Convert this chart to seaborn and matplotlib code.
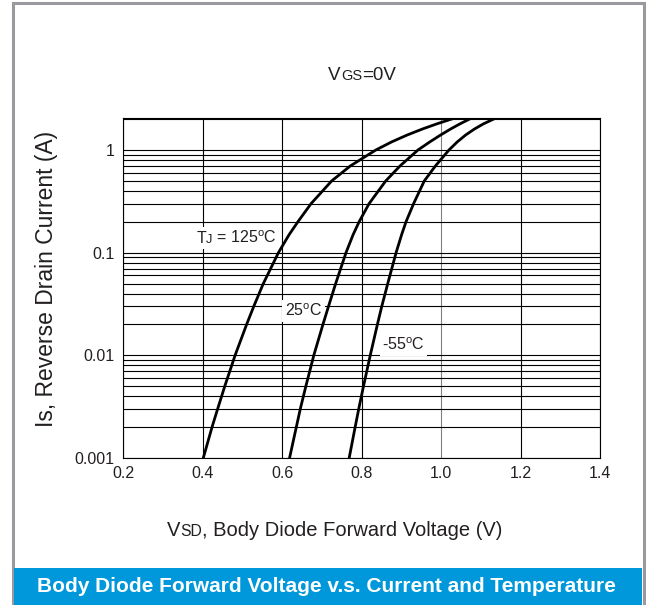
import matplotlib
matplotlib.use('Agg')
import matplotlib.pyplot as plt
from matplotlib.offsetbox import TextArea, HPacker, AnnotationBbox
from matplotlib.patches import Rectangle
import pandas as pd
import seaborn as sns

# currents at the grid lines, forward voltage
i_grid = [0.001, 0.002, 0.003, 0.005, 0.01, 0.02, 0.03, 0.05, 0.1, 0.15,
          0.2, 0.3, 0.5, 0.7, 1.0, 1.2, 1.4, 1.6, 1.8, 2.04]
v_125 = [0.402, 0.424, 0.438, 0.456, 0.482, 0.511, 0.529, 0.553, 0.591, 0.618,
         0.640, 0.673, 0.725, 0.772, 0.836, 0.876, 0.915, 0.953, 0.990, 1.033]
v_25 = [0.619, 0.636, 0.646, 0.660, 0.680, 0.703, 0.717, 0.735, 0.761, 0.779,
        0.794, 0.819, 0.861, 0.897, 0.942, 0.972, 0.999, 1.024, 1.048, 1.076]
v_m55 = [0.769, 0.784, 0.793, 0.805, 0.822, 0.840, 0.851, 0.866, 0.887, 0.901,
         0.912, 0.931, 0.958, 0.986, 1.020, 1.041, 1.062, 1.084, 1.107, 1.137]

x_ticks = [0.2, 0.4, 0.6, 0.8, 1.0, 1.2, 1.4]
x_tick_labels = ['0.2', '0.4', '0.6', '0.8', '1.0', '1.2', '1.4']
y_ticks = [0.001, 0.01, 0.1, 1]
y_tick_labels = ['0.001', '0.01', '0.1', '1']

df = pd.concat([
    pd.DataFrame({'V': v_125, 'I': i_grid, 'T': '125'}),
    pd.DataFrame({'V': v_25, 'I': i_grid, 'T': '25'}),
    pd.DataFrame({'V': v_m55, 'I': i_grid, 'T': '-55'}),
])

TXT = '#231f20'

sns.set_theme(style='white')
plt.rcParams['font.family'] = ['Liberation Sans', 'DejaVu Sans']
plt.rcParams['mathtext.fontset'] = 'custom'
plt.rcParams['mathtext.rm'] = 'Liberation Sans'


def rich(parts, size, color=TXT):
    boxes = [TextArea(t, textprops=dict(size=size * s, color=color)) for t, s in parts]
    return HPacker(children=boxes, align='baseline', pad=0, sep=0)


fig = plt.figure(figsize=(6.48, 6.05), dpi=100)
ax = fig.add_axes([123 / 648, 1 - 458 / 605, 477 / 648, 340 / 605])

sns.lineplot(data=df, x='V', y='I', hue='T', palette=['black'] * 3, estimator=None,
             sort=False, lw=2.0, legend=False, ax=ax, zorder=3)

ax.set_yscale('log')
ax.set_xlim(0.2, 1.4)
ax.set_ylim(0.001, 2.05)
ax.set_xticks(x_ticks, x_tick_labels)
ax.set_yticks(y_ticks, y_tick_labels)
ax.tick_params(which='both', length=0, labelsize=11.5, labelcolor=TXT, pad=6)
ax.set_xlabel('')
ax.set_ylabel('')

ax.set_axisbelow(True)
ax.yaxis.grid(True, which='both', color='black', lw=0.8)
ax.xaxis.grid(True, which='major', color='black', lw=0.8)
ax.get_xgridlines()[4].set_color('#808080')
for s in ax.spines.values():
    s.set_color('black')
    s.set_linewidth(0.8)

# curve labels with white backing
labels = [
    ([('T', 1), ('J', 0.8), (' = 125$^\\mathregular{o}$C', 1)], 0.384, 0.139),
    ([('25$^\\mathregular{o}$C', 1)], 0.607, 0.027),
    ([('-55$^\\mathregular{o}$C', 1)], 0.852, 0.0126),
]
for parts, x, y in labels:
    ab = AnnotationBbox(rich(parts, 11.5), (x, y), xycoords='data', box_alignment=(0, 0.5),
                        frameon=True, pad=0.15,
                        bboxprops=dict(facecolor='white', edgecolor='none'))
    ab.set_zorder(2.5)
    ax.add_artist(ab)

# headline and axis titles
fig.add_artist(AnnotationBbox(rich([('V', 1), ('GS', 0.78), ('=0V', 1)], 13.5), (362, 529),
                              xycoords='figure pixels', frameon=False, box_alignment=(0.5, 0.5)))
fig.add_artist(AnnotationBbox(rich([('V', 1), ('SD', 0.78), (', Body Diode Forward Voltage (V)', 1)], 14.5),
                              (335, 74), xycoords='figure pixels', frameon=False,
                              box_alignment=(0.5, 0.5)))
fig.text(47 / 648, 1 - 279 / 605, 'Is, Reverse Drain Current (A)', rotation=90,
         ha='center', va='center', fontsize=16.5, color=TXT)

# outer frame and caption banner
fig.add_artist(Rectangle((12.5 / 648, -0.05), 631 / 648, 1.05 - 3 / 605, transform=fig.transFigure,
                         fill=False, edgecolor='#9a9a9e', lw=2.2))
fig.add_artist(Rectangle((14 / 648, 0), 628 / 648, 37 / 605, transform=fig.transFigure,
                         facecolor='#0098da', edgecolor='none'))
fig.text(326 / 648, 19 / 605, 'Body Diode Forward Voltage v.s. Current and Temperature',
         ha='center', va='center', fontsize=15, fontweight='bold', color='white')

fig.savefig('out.png', dpi=100)
